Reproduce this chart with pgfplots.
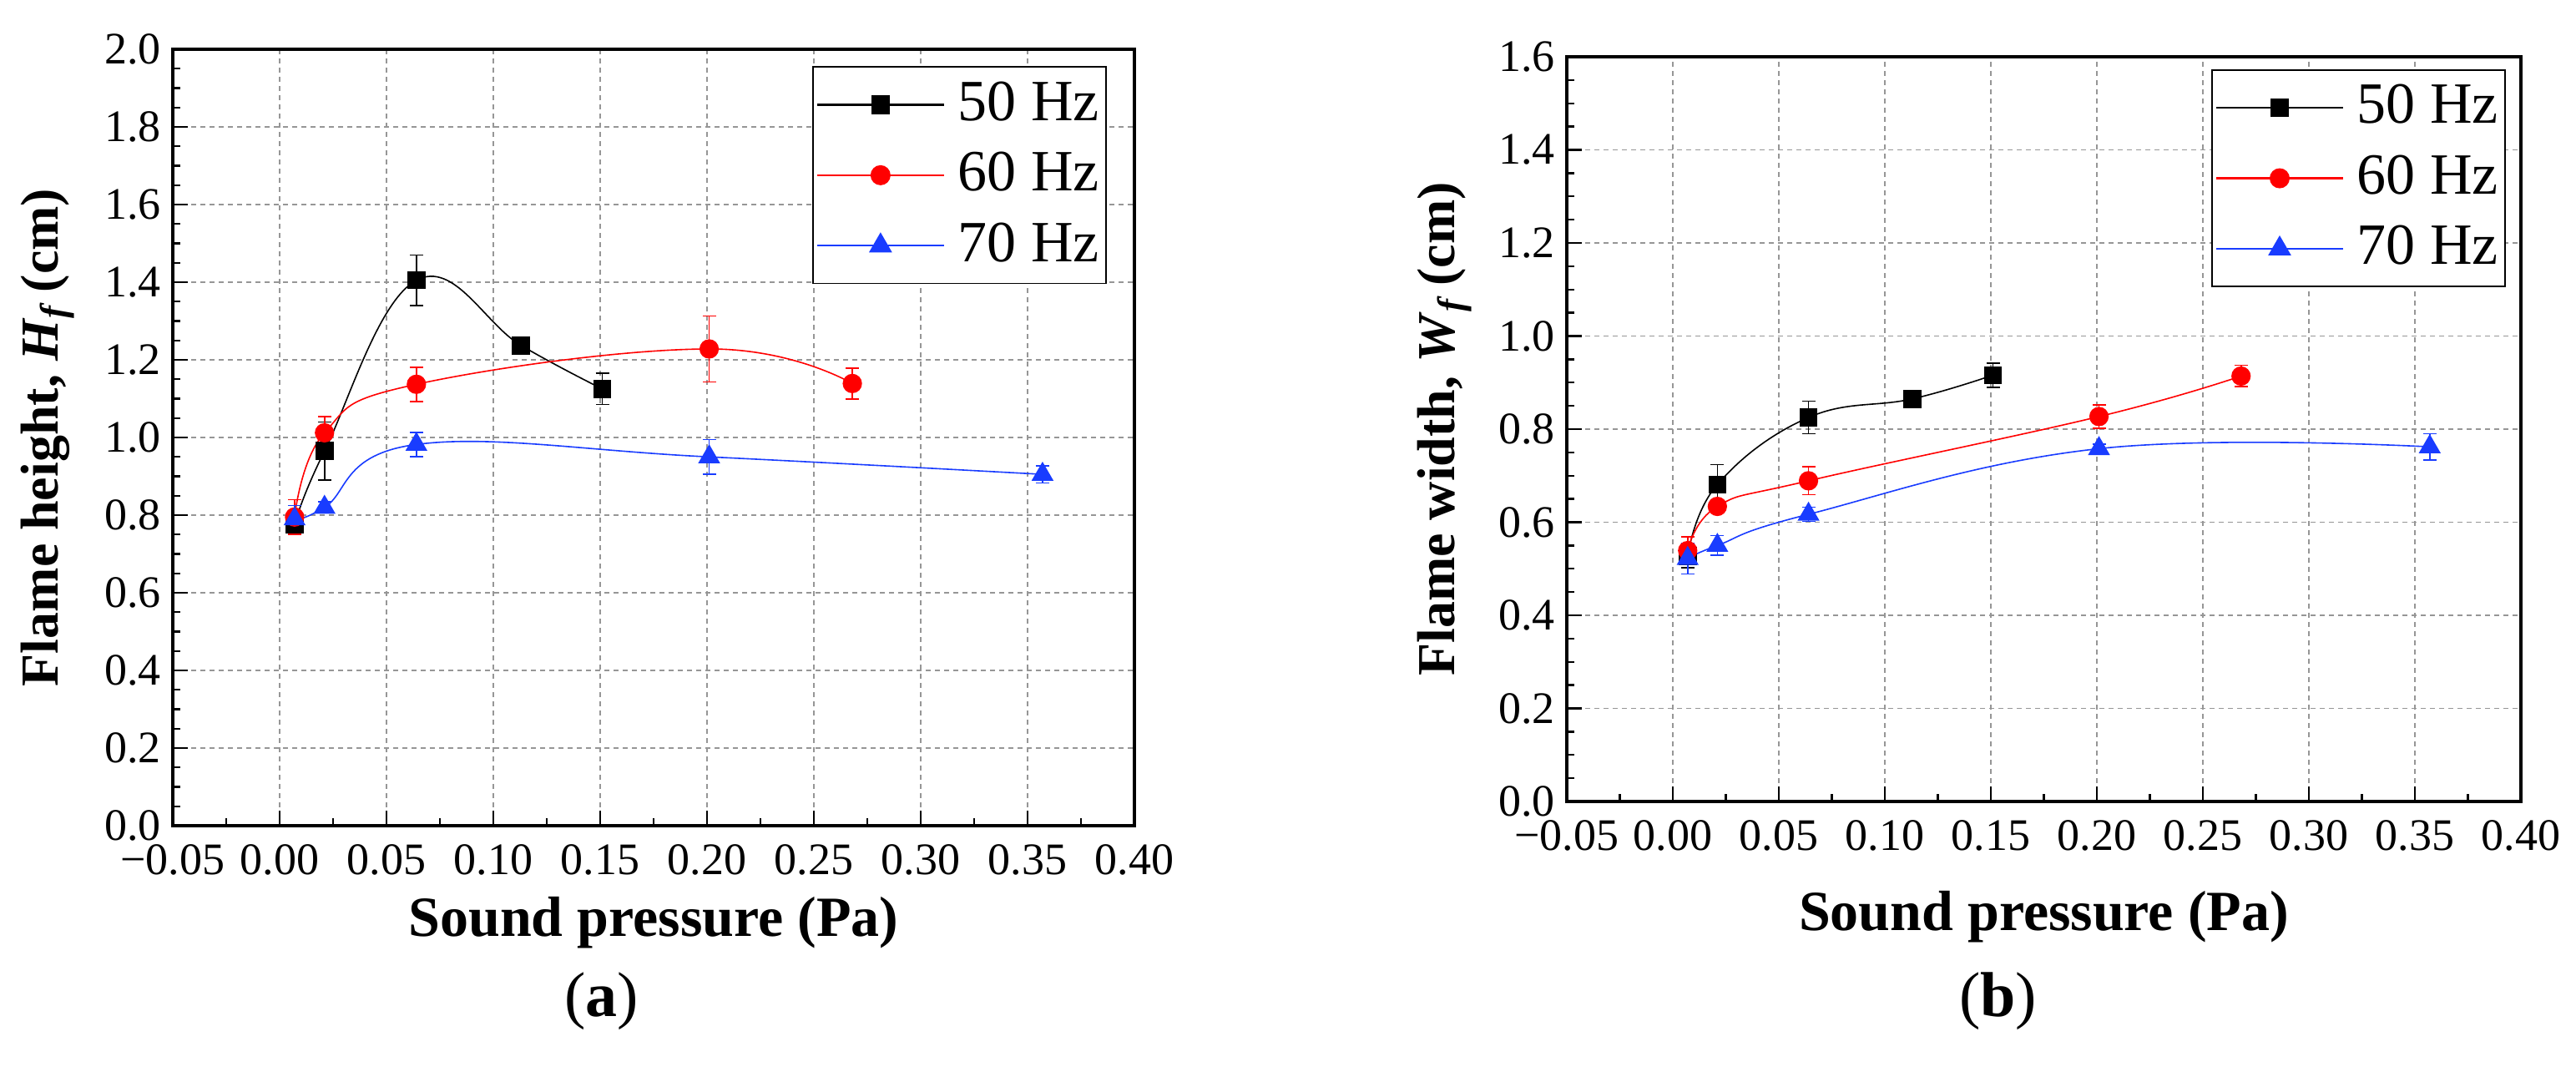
\documentclass[border=0pt]{standalone}
\usepackage{fontspec}
\setmainfont{Liberation Serif}
\usepackage{pgfplots}
\pgfplotsset{compat=1.18}
\usepackage{pgfplotstable}
\definecolor{cBlue}{RGB}{25,60,255}
\definecolor{cRed}{RGB}{255,0,0}
\definecolor{cGrid}{RGB}{150,150,150}

% Flame height H_f (cm)
\pgfplotstableread{
x y e
0.007 0.775 0.025
0.021 0.965 0.075
0.064 1.405 0.065
0.113 1.237 0.012
0.151 1.125 0.040
}\hA
\pgfplotstableread{
x y e
0.007 0.795 0.045
0.021 1.012 0.042
0.064 1.137 0.044
0.201 1.228 0.085
0.268 1.139 0.040
}\hB
\pgfplotstableread{
x y e
0.007 0.790 0.035
0.021 0.820 0.015
0.064 0.982 0.031
0.201 0.950 0.045
0.357 0.905 0.022
}\hC
% Flame width W_f (cm)
\pgfplotstableread{
x y e
0.007 0.527 0.025
0.021 0.681 0.043
0.064 0.825 0.035
0.113 0.865 0.010
0.151 0.916 0.026
}\wA
\pgfplotstableread{
x y e
0.007 0.539 0.030
0.021 0.634 0.012
0.064 0.689 0.030
0.201 0.827 0.025
0.268 0.914 0.023
}\wB
\pgfplotstableread{
x y e
0.007 0.522 0.033
0.021 0.550 0.021
0.064 0.617 0.015
0.201 0.758 0.010
0.357 0.762 0.028
}\wC

\pgfplotsset{
  myaxis/.style={
    scale only axis,
    anchor=south west,
    xmin=-0.05, xmax=0.40,
    xtick={-0.05,0,0.05,0.10,0.15,0.20,0.25,0.30,0.35,0.40},
    xticklabels={−0.05,0.00,0.05,0.10,0.15,0.20,0.25,0.30,0.35,0.40},
    minor x tick num=1,
    minor y tick num=3,
    tick pos=left,
    tick align=inside,
    major tick length=4.4pt,
    minor tick length=2.2pt,
    every tick/.style={black, line width=0.6pt},
    axis line style={line width=0.8pt},
    grid=major,
    major grid style={cGrid, line width=0.35pt, dash pattern=on 1.5pt off 1.25pt},
    ticklabel style={font=\fontsize{13.5}{16}\selectfont},
    xticklabel style={yshift=-2pt},
    yticklabel style={/pgf/number format/fixed, /pgf/number format/fixed zerofill, /pgf/number format/precision=1, /pgf/number format/assume math mode=true},
    xlabel style={font=\fontsize{17}{20}\selectfont\bfseries},
    ylabel style={font=\fontsize{16}{19}\selectfont\bfseries},
    title style={font=\fontsize{19}{22}\selectfont, anchor=center},
    legend cell align=left,
    legend style={draw=black, line width=0.4pt, font=\fontsize{17.5}{21}\selectfont,
      inner xsep=1pt, inner ysep=2pt, row sep=2.5pt, column sep=3pt,
      nodes={inner sep=1pt, text height=13pt, text depth=3.6pt},
      anchor=north east},
    legend image code/.code={\draw[mark repeat=2,mark phase=2,line width=0.6pt,#1] plot coordinates {(0pt,0pt) (18.9pt,0pt) (37.8pt,0pt)};},
    every axis plot/.append style={line width=0.4pt},
    error bars/error bar style={line width=0.4pt, solid},
    error bars/error mark options={rotate=90, mark size=2pt, line width=0.4pt},
  },
  sA/.style={black, smooth, tension=0.7, mark=square*, mark size=2.5pt, mark options={fill=black}},
  sB/.style={cRed, smooth, tension=0.7, mark=*, mark size=2.7pt, mark options={fill=cRed}},
  sC/.style={cBlue, smooth, tension=0.7, mark=triangle*, mark size=3.4pt, mark options={fill=cBlue}},
}

\begin{document}
\begin{tikzpicture}
\useasboundingbox (0,0) rectangle (771.5pt,324pt);

\begin{axis}[myaxis,
  at={(51.75pt,76.75pt)}, width=288pt, height=232.5pt,
  ymin=0, ymax=2.0, ytick={0,0.2,...,2.0},
  xlabel={Sound pressure (Pa)},
  xlabel style={at={(axis description cs:0.5,-0.125)}, anchor=center},
  ylabel={Flame height, \textit{H}\textsubscript{\textit{f}}\,(cm)},
  ylabel style={at={(axis description cs:-0.130,0.50)}, anchor=center},
  title={(\textbf{a})},
  title style={at={(axis description cs:0.446,-0.252)}},
  legend style={at={(0.971,0.978)}},
]
\addplot+[sA, error bars/.cd, y dir=both, y explicit] table[x=x, y=y, y error=e] {\hA};
\addlegendentry{50 Hz}
\addplot+[sB, error bars/.cd, y dir=both, y explicit] table[x=x, y=y, y error=e] {\hB};
\addlegendentry{60 Hz}
\addplot+[sC, error bars/.cd, y dir=both, y explicit] table[x=x, y=y, y error=e] {\hC};
\addlegendentry{70 Hz}
\end{axis}

\begin{axis}[myaxis,
  at={(469.25pt,84pt)}, width=285.75pt, height=223pt,
  ymin=0, ymax=1.6, ytick={0,0.2,...,1.6},
  xlabel={Sound pressure (Pa)},
  xlabel style={at={(axis description cs:0.5,-0.155)}, anchor=center},
  ylabel={Flame width, \textit{W}\textsubscript{\textit{f}}\,(cm)},
  ylabel style={at={(axis description cs:-0.128,0.50)}, anchor=center},
  title={(\textbf{b})},
  title style={at={(axis description cs:0.452,-0.295)}},
  legend style={at={(0.984,0.983)}},
]
\addplot+[sA, error bars/.cd, y dir=both, y explicit] table[x=x, y=y, y error=e] {\wA};
\addlegendentry{50 Hz}
\addplot+[sB, error bars/.cd, y dir=both, y explicit] table[x=x, y=y, y error=e] {\wB};
\addlegendentry{60 Hz}
\addplot+[sC, error bars/.cd, y dir=both, y explicit] table[x=x, y=y, y error=e] {\wC};
\addlegendentry{70 Hz}
\end{axis}
\end{tikzpicture}
\end{document}
